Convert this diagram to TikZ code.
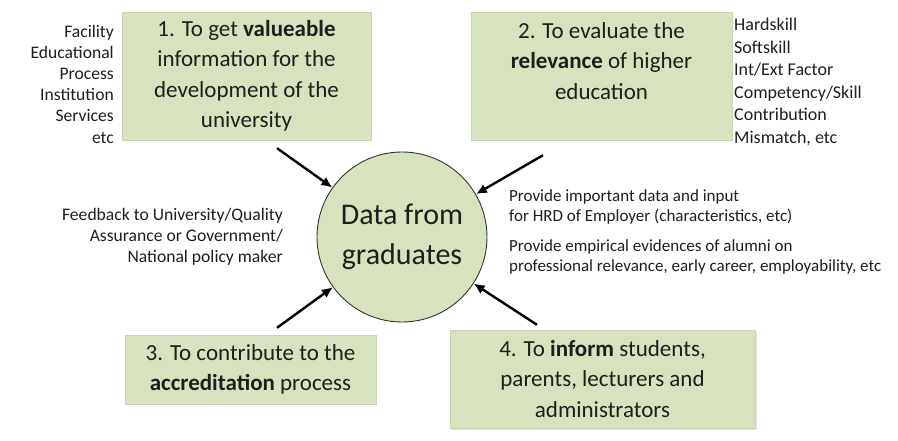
\documentclass[tikz,border=0pt]{standalone}
\usepackage{fontspec}
\setmainfont{Carlito}
\usetikzlibrary{arrows.meta,shadows}
\definecolor{goalgreen}{RGB}{215,227,190}
\definecolor{inktext}{RGB}{30,30,30}
\begin{document}
\begin{tikzpicture}[x=1pt,y=-1pt,
	goal/.style={draw=goalgreen!85!gray,fill=goalgreen,align=center,inner sep=0pt,text=inktext,font=\fontsize{23}{30.5}\selectfont},
	note/.style={inner sep=0pt,text=inktext,font=\fontsize{17.6}{21.2}\selectfont},
	arr/.style={line width=2.4pt,-{Latex[length=11pt,width=10pt]}}]
\useasboundingbox (0,0) rectangle (898,441);

	\node[goal,minimum width=249pt,minimum height=128pt](box1) at (246.5,76){1. To get \textbf{valueable}\\information for the\\development of the\\university};
	\node[goal,minimum width=261pt,minimum height=128pt](box2) at (601.5,76){2. To evaluate the\\\textbf{relevance} of higher\\education\\\mbox{}};
	\node[goal,minimum width=251pt,minimum height=69pt](box3) at (250.5,369.5){3. To contribute to the\\\textbf{accreditation} process};
	\node[goal,minimum width=305pt,minimum height=98pt,drop shadow={shadow xshift=1.5pt,shadow yshift=-1.5pt,fill=black!20}](box4) at (602.5,379){4. To \textbf{inform} students,\\parents, lecturers and\\administrators};

\node[circle,draw=black!80,line width=0.9pt,fill=goalgreen,minimum size=170pt,inner sep=0pt,align=center,text=inktext,font=\fontsize{30}{40}\selectfont](data) at (402,237){Data from\\graduates};

	\node[note,align=right,anchor=east](facility) at (114,84){Facility\\Educational\\Process\\Institution\\Services\\etc};
	\node[note,align=left,anchor=west,font=\fontsize{18}{22.6}\selectfont](skills) at (734,82){Hardskill\\Softskill\\Int/Ext Factor\\Competency/Skill\\Contribution\\Mismatch, etc};
	\node[note,align=right,anchor=east](feedback) at (283,237){Feedback to University/Quality\\Assurance or Government/\\National policy maker};
	\node[note,align=left,anchor=west,font=\fontsize{17}{20}\selectfont](employer) at (509,207){Provide important data and input\\for HRD of Employer (characteristics, etc)};
	\node[note,align=left,anchor=west,font=\fontsize{17}{20}\selectfont](alumni) at (509,257){Provide empirical evidences of alumni on\\professional relevance, early career, employability, etc};

\coordinate(start1) at ([shift={(30.5,8)}]box1.south);
\coordinate(start2) at ([shift={(-58.5,15)}]box2.south);
\coordinate(start3) at ([shift={(26.5,-7)}]box3.north);
\coordinate(start4) at ([shift={(-65.5,-5)}]box4.north);
\draw[arr](start1)--(data);
\draw[arr](start2)--(data);
\draw[arr](start3)--(data);
\draw[arr](start4)--(data);
\end{tikzpicture}
\end{document}
